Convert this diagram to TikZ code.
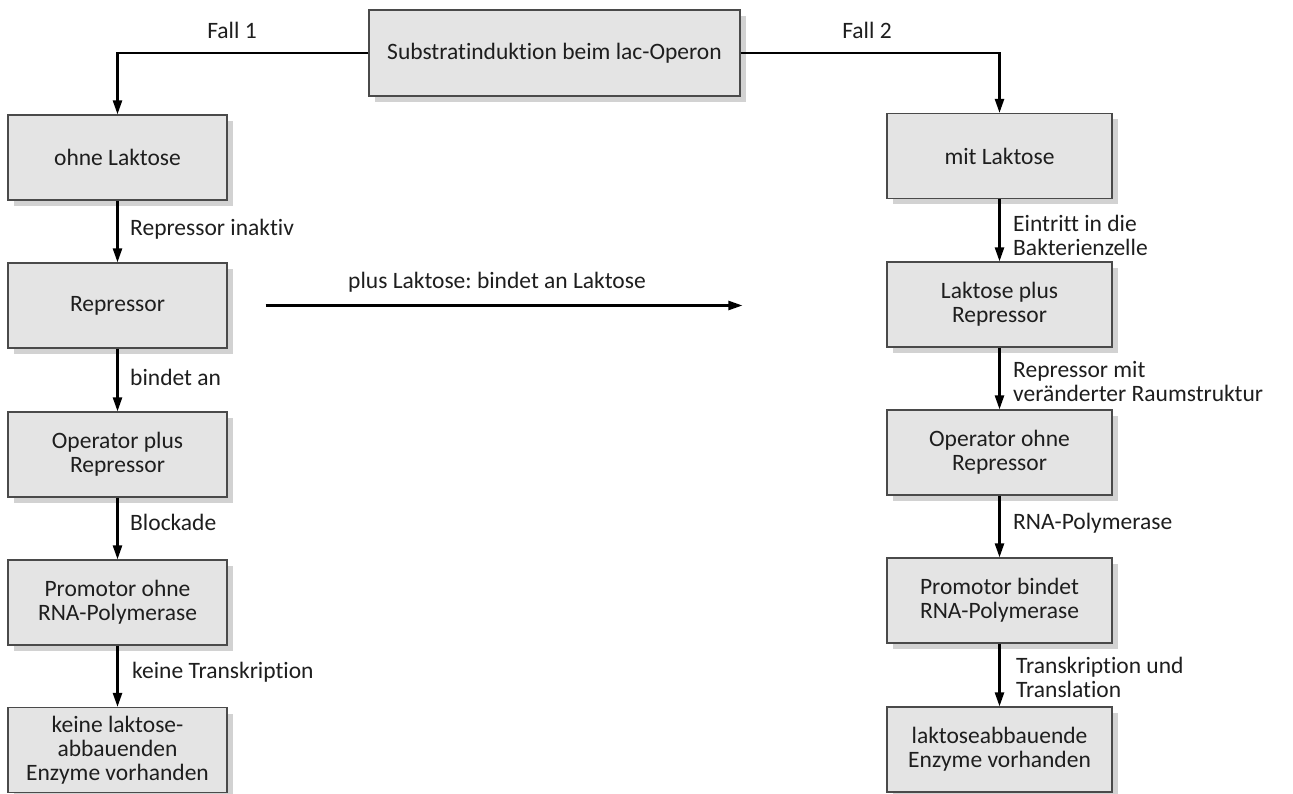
\documentclass[tikz,border=0pt]{standalone}
\usepackage{fontspec}
\setmainfont{Carlito}[Ligatures=NoCommon]
\frenchspacing
\usetikzlibrary{arrows.meta,shadows}
\definecolor{boxfill}{HTML}{E4E4E4}
\definecolor{boxline}{HTML}{4A4A4A}
\definecolor{ink}{HTML}{1E1E1E}
\tikzset{
  flowbox/.style={draw=boxline, line width=1.2pt, fill=boxfill, rectangle,
    minimum height=85pt, align=center, inner sep=2pt, text=ink,
    font=\fontsize{23.5}{24}\selectfont,
    drop shadow={shadow xshift=6pt, shadow yshift=-6pt, fill=black!22, opacity=0.8}},
  leftbox/.style={flowbox, minimum width=219pt},
  rightbox/.style={flowbox, minimum width=225pt},
  conn/.style={draw=black, line width=2.4pt, -{Triangle[length=14pt,width=9pt]}},
  lbl/.style={anchor=west, align=left, text=ink, inner sep=0pt, font=\fontsize{23.5}{24}\selectfont},
  toplbl/.style={text=ink, inner sep=0pt, font=\fontsize{23.5}{24}\selectfont}
}
\begin{document}
\begin{tikzpicture}[x=1pt,y=-1pt]
\useasboundingbox (0,0) rectangle (1293,794);
\clip (0,0) rectangle (1293,794);
\fill[white] (0,0) rectangle (1293,794);

\node[flowbox, minimum width=371pt, minimum height=86pt] (top) at (554.5,53) {Substratinduktion beim lac-Operon};

\node[leftbox] (ohne) at (117.5,157.5) {ohne Laktose};
\node[leftbox] (rep) at (117.5,305.5) {Repressor};
\node[leftbox] (opr) at (117.5,454.5) {Operator plus\\Repressor};
\node[leftbox] (proO) at (117.5,602.5) {Promotor ohne\\RNA-Polymerase};
\node[leftbox] (kein) at (117.5,750) {keine laktose-\\abbauenden\\Enzyme vorhanden};

\node[rightbox] (mit) at (999.5,156) {mit Laktose};
\node[rightbox] (lpr) at (999.5,304.5) {Laktose plus\\Repressor};
\node[rightbox] (oor) at (999.5,452.5) {Operator ohne\\Repressor};
\node[rightbox] (proB) at (999.5,600.5) {Promotor bindet\\RNA-Polymerase};
\node[rightbox] (enz) at (999.5,749.5) {laktoseabbauende\\Enzyme vorhanden};

\draw[conn] (top.west) -| (ohne.north);
\draw[conn] (top.east) -| (mit.north);
\node[toplbl] (f1) at (232,30) {Fall 1};
\node[toplbl] (f2) at (867,30) {Fall 2};

\draw[conn] (ohne) -- (rep);
\draw[conn] (rep) -- (opr);
\draw[conn] (opr) -- (proO);
\draw[conn] (proO) -- (kein);

\draw[conn] (mit) -- (lpr);
\draw[conn] (lpr) -- (oor);
\draw[conn] (oor) -- (proB);
\draw[conn] (proB) -- (enz);

\draw[conn, shorten <=38pt, shorten >=144pt] (rep.east) -- (rep.east -| lpr.west);
\node[toplbl] (hl) at (497,282) {plus Laktose: bindet an Laktose};

\node[lbl] (l1) at (130,229) {Repressor inaktiv};
\node[lbl] (l2) at (130,377) {bindet an};
\node[lbl] (l3) at (130,522) {Blockade};
\node[lbl] (l4) at (132,672) {keine Transkription};

\node[lbl] (r1) at (1013,235) {Eintritt in die\\Bakterienzelle};
\node[lbl] (r2) at (1013,382) {Repressor mit\\veränderter Raumstruktur};
\node[lbl] (r3) at (1013,523) {RNA-Polymerase};
\node[lbl] (r4) at (1016,677) {Transkription und\\Translation};
\end{tikzpicture}
\end{document}
